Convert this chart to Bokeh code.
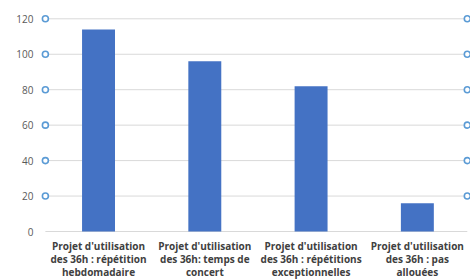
from bokeh.plotting import figure
from bokeh.models import Range1d, FixedTicker
from bokeh.core.properties import value
from bokeh.embed import file_html
from bokeh.resources import INLINE

categories = [
    "Projet d'utilisation\ndes 36h : répétition\nhebdomadaire",
    "Projet d'utilisation\ndes 36h: temps de\nconcert",
    "Projet d'utilisation\ndes 36h : répétitions\nexceptionnelles",
    "Projet d'utilisation\ndes 36h : pas\nallouées",
]
values = [114, 96, 82, 16]
y_ticks = [0, 20, 40, 60, 80, 100, 120]
handle_ticks = [20, 40, 60, 80, 100, 120]

xs = list(range(len(categories)))

# layout: frame spans from 12px to the bottom of the canvas; 0 sits at 231px, 120 at 18.3px
px_per_unit = (231 - 18.3) / 120
Y_TOP = 120 + (18.3 - 12) / px_per_unit
Y_BOTTOM = -(280 - 231) / px_per_unit

p = figure(width=470, height=280, output_backend="svg", toolbar_location=None,
           x_range=Range1d(-0.546, 3.5), y_range=Range1d(Y_BOTTOM, Y_TOP),
           min_border_left=40, min_border_right=0, min_border_top=12, min_border_bottom=0)
p.outline_line_color = None
p.background_fill_color = "white"
p.border_fill_color = "white"
p.xgrid.visible = False
p.ygrid.visible = False

# gridlines
p.segment(x0=[-0.5] * len(y_ticks), x1=[3.47] * len(y_ticks), y0=y_ticks, y1=y_ticks,
          line_color="#d9d9d9", line_width=1)

p.vbar(x=xs, top=values, width=0.31, bottom=0, fill_color="#4472c4", line_color=None)

# selection handles
p.scatter(x=[-0.5] * len(handle_ticks), y=handle_ticks, size=6, marker="circle",
          fill_color="white", line_color="#5b9bd5", line_width=1.6)
p.scatter(x=[3.47] * len(handle_ticks), y=handle_ticks, size=6, marker="circle",
          fill_color="white", line_color="#5b9bd5", line_width=1.6)

p.yaxis.ticker = FixedTicker(ticks=y_ticks)
p.yaxis.axis_line_color = None
p.yaxis.major_tick_line_color = None
p.yaxis.minor_tick_line_color = None
p.yaxis.major_label_text_font = "Open Sans"
p.yaxis.major_label_text_font_size = "10px"
p.yaxis.major_label_text_color = "#595959"
p.yaxis.major_label_standoff = 1

p.xaxis.visible = False

# category labels (multi-line), placed below the baseline
lx, ly, lt = [], [], []
for x, cat in zip(xs, categories):
    for k, line in enumerate(cat.split("\n")):
        lx.append(x)
        ly.append(-(14 + 13 * k) / px_per_unit)
        lt.append(line)
p.text(x=lx, y=ly, text=lt, text_align="center", text_baseline="middle",
       text_font=value("Open Sans"), text_font_size="10px",
       text_font_style="bold", text_color="#404040")

open("out.html", "w").write(file_html(p, INLINE))
